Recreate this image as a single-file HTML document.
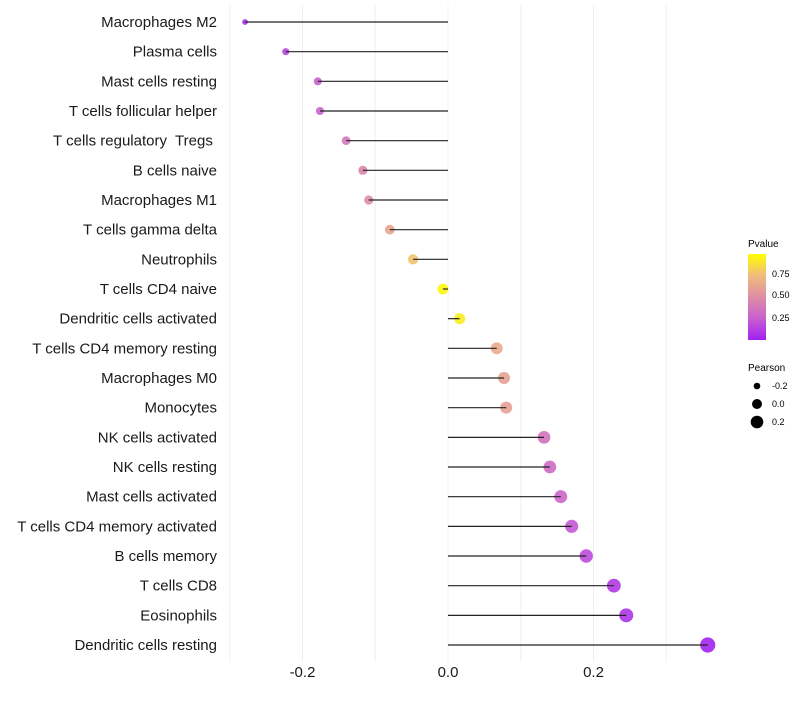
<!DOCTYPE html>
<html><head><meta charset="utf-8"><style>
body{margin:0;background:#fff;font-family:"Liberation Sans",sans-serif}
</style></head><body>
<svg id="c" width="800" height="700" xmlns="http://www.w3.org/2000/svg">
<defs><linearGradient id="pg" x1="0" y1="1" x2="0" y2="0">
<stop offset="0" stop-color="#a020f0"/><stop offset="0.25" stop-color="#c860d0"/><stop offset="0.5" stop-color="#de8ea4"/><stop offset="0.75" stop-color="#f0bc7c"/><stop offset="1" stop-color="#ffff00"/>
</linearGradient></defs>
<g id="grid"></g><g id="pts"></g><g id="stems"></g><g id="labels"></g>
<g font-size="10" fill="#000">
<text x="748" y="247">Pvalue</text>
<rect x="748" y="254" width="18" height="86" fill="url(#pg)"/>
<text x="772" y="277" font-size="9">0.75</text>
<text x="772" y="298" font-size="9">0.50</text>
<text x="772" y="321" font-size="9">0.25</text>
<text x="748" y="371">Pearson</text>
<circle cx="757" cy="386" r="3.3"/>
<circle cx="757" cy="404" r="5"/>
<circle cx="757" cy="422" r="6.3"/>
<text x="772" y="389" font-size="9">-0.2</text>
<text x="772" y="407" font-size="9">0.0</text>
<text x="772" y="425" font-size="9">0.2</text>
</g>
</svg>
<script>
const categories=["Macrophages M2","Plasma cells","Mast cells resting","T cells follicular helper","T cells regulatory  Tregs ","B cells naive","Macrophages M1","T cells gamma delta","Neutrophils","T cells CD4 naive","Dendritic cells activated","T cells CD4 memory resting","Macrophages M0","Monocytes","NK cells activated","NK cells resting","Mast cells activated","T cells CD4 memory activated","B cells memory","T cells CD8","Eosinophils","Dendritic cells resting"];
const pearson=[-0.279,-0.223,-0.179,-0.176,-0.140,-0.117,-0.109,-0.080,-0.048,-0.007,0.016,0.067,0.077,0.080,0.132,0.140,0.155,0.170,0.190,0.228,0.245,0.357];
const pvalue=[0.05,0.15,0.25,0.27,0.38,0.45,0.5,0.62,0.78,0.97,0.93,0.65,0.6,0.6,0.35,0.32,0.28,0.22,0.17,0.1,0.08,0.01];
const xTicks=[-0.2,0.0,0.2];
const xTickLabels=["-0.2","0.0","0.2"];
const gridVals=[-0.3,-0.2,-0.1,0,0.1,0.2,0.3];
const NS="http://www.w3.org/2000/svg";
const xs=v=>448+v*727.5;
const ys=i=>22+i*29.667;
const rs=v=>Math.sqrt(Math.max(1,30+78*v));
const stops=[[0,[160,32,240]],[0.25,[200,96,208]],[0.5,[222,142,164]],[0.75,[240,188,124]],[1,[255,255,0]]];
function col(p){for(let k=0;k<stops.length-1;k++){const[a,ca]=stops[k],[b,cb]=stops[k+1];if(p<=b){const t=(p-a)/(b-a);return"rgb("+ca.map((c,j)=>Math.round(c+(cb[j]-c)*t)).join(",")+")";}}return"rgb(255,255,0)";}
function mk(t,a,p){const e=document.createElementNS(NS,t);for(const k in a)e.setAttribute(k,a[k]);p.appendChild(e);return e;}
const g=document.getElementById("grid"),pts=document.getElementById("pts"),st=document.getElementById("stems"),l=document.getElementById("labels");
gridVals.forEach(v=>{const e=mk("line",{x1:xs(v),x2:xs(v),y1:5,y2:662,stroke:"#f0f0f0","stroke-width":1},g);

});
categories.forEach((c,i)=>{
const y=ys(i);
const t=mk("text",{x:217,y:y+5,"text-anchor":"end","font-size":"15",fill:"#1a1a1a","xml:space":"preserve",style:"white-space:pre"},l);t.textContent=c;


const d=mk("circle",{cx:xs(pearson[i]),cy:y,r:rs(pearson[i]),fill:col(pvalue[i]),"fill-opacity":0.9},pts);


const s=mk("line",{x1:xs(0),x2:xs(pearson[i]),y1:y,y2:y,stroke:"#222","stroke-width":1.2},st);


});
xTicks.forEach((v,i)=>{const t=mk("text",{x:xs(v),y:677,"text-anchor":"middle","font-size":"15",fill:"#1a1a1a"},l);t.textContent=xTickLabels[i];

});
</script>
</body></html>
